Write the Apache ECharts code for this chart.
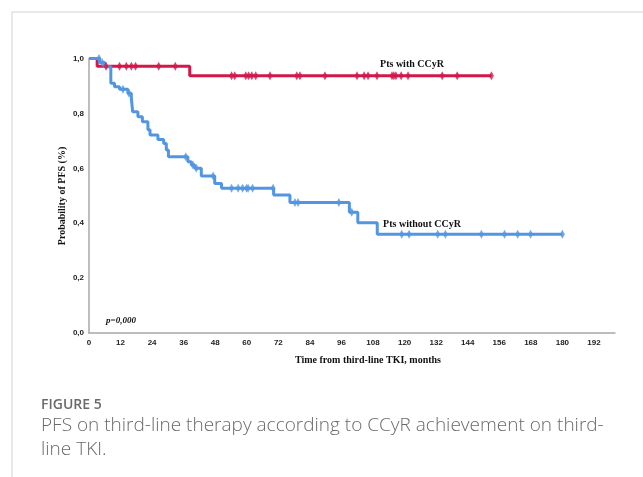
<!DOCTYPE html>
<html><head><meta charset="utf-8">
<script src="https://cdn.jsdelivr.net/npm/echarts@6/dist/echarts.min.js"></script>
<style>html,body{margin:0;padding:0;background:#fff}#c{width:643px;height:477px}</style>
</head><body><div id="c"></div>
<script>
// Kaplan–Meier steps [months, survival]
const redSteps = [[0,1.0],[3.1,0.972],[38.3,0.937],[153,0.937]];
const redCensor = [[6.5,0.972],[11.6,0.972],[14.2,0.972],[16.1,0.972],[17.7,0.972],[26.5,0.972],[32.8,0.972],
  [54.2,0.937],[55.4,0.937],[59.6,0.937],[60.7,0.937],[61.9,0.937],[63.4,0.937],[68.8,0.937],[79,0.937],[80.2,0.937],
  [89.7,0.937],[101.9,0.937],[104.6,0.937],[106.1,0.937],[109.5,0.937],[115.2,0.937],[115.9,0.937],[116.7,0.937],
  [118.7,0.937],[121.3,0.937],[134.3,0.937],[140,0.937],[153,0.937]];
const blueSteps = [[0,1.0],[4,0.985],[6,0.97],[8.3,0.91],[9.7,0.897],[11.6,0.888],[14.8,0.873],[16.1,0.855],
  [16.6,0.806],[18.6,0.788],[20.3,0.77],[22.4,0.74],[23.2,0.721],[26.2,0.705],[28.4,0.69],[29.4,0.667],[30.2,0.642],
  [37.6,0.624],[38.9,0.612],[40.2,0.6],[42.7,0.572],[47.8,0.545],[50.4,0.527],[70.2,0.503],[76.4,0.475],
  [99.0,0.44],[102.2,0.402],[109.6,0.36],[180,0.36]];
const blueCensor = [[3.8,1.0],[5,0.985],[12.9,0.888],[15.2,0.873],[36.8,0.642],[39.5,0.612],[40.8,0.6],[47.2,0.572],
  [54.2,0.527],[56.7,0.527],[58.4,0.527],[59.9,0.527],[60.5,0.527],[62.2,0.527],[70,0.527],[78.3,0.475],[79.5,0.475],
  [95,0.475],[99.9,0.44],[118.9,0.36],[121.7,0.36],[132.6,0.36],[135.5,0.36],[149.2,0.36],[158,0.36],[163,0.36],
  [167.9,0.36],[180,0.36]];
const xTicks = {min:0, max:200, interval:12};
const yTicks = {min:0, max:1, interval:0.2};

const RED = '#d3174a', BLUE = '#5296e2';
const serif = '"Liberation Serif","Times New Roman",serif';
const chart = echarts.init(document.getElementById('c'));
chart.setOption({
  animation:false,
  grid:{left:89, right:28, top:58.5, bottom:144},
  xAxis:{type:'value', min:xTicks.min, max:xTicks.max, interval:xTicks.interval,
    axisLine:{show:true, lineStyle:{color:'#a8a8a8', width:1.5}}, axisTick:{show:false}, splitLine:{show:false},
    axisLabel:{fontFamily:'"Liberation Sans",Arial,sans-serif', fontWeight:'bold', fontSize:8, color:'#222', margin:6,
      formatter:v=> v===200 ? '' : String(v)}},
  yAxis:{type:'value', min:yTicks.min, max:yTicks.max, interval:yTicks.interval,
    axisLine:{show:true, lineStyle:{color:'#a8a8a8', width:1.5}}, axisTick:{show:false}, splitLine:{show:false},
    axisLabel:{fontFamily:'"Liberation Sans",Arial,sans-serif', fontWeight:'bold', fontSize:8, color:'#222', margin:5,
      formatter:v=> v.toFixed(1).replace('.',',')}},
  series:[
    {type:'line', step:'end', data:redSteps, showSymbol:false, lineStyle:{color:RED, width:3}, z:2},
    {type:'line', step:'end', data:blueSteps, showSymbol:false, lineStyle:{color:BLUE, width:3}, z:3},
    {type:'scatter', data:redCensor, symbol:'diamond', symbolSize:[5,9], itemStyle:{color:RED}, z:4},
    {type:'scatter', data:blueCensor, symbol:'diamond', symbolSize:[5,9], itemStyle:{color:BLUE}, z:5}
  ],
  graphic:[
    {type:'line', shape:{x1:12,y1:12,x2:643,y2:12}, style:{stroke:'#d2d2d2', lineWidth:1}},
    {type:'line', shape:{x1:12,y1:12,x2:12,y2:477}, style:{stroke:'#d2d2d2', lineWidth:1}},
    {type:'text', x:412, y:64, style:{text:'Pts with CCyR', font:'bold 10px '+serif, fill:'#111', align:'center', verticalAlign:'middle'}},
    {type:'text', x:422, y:224, style:{text:'Pts without CCyR', font:'bold 10px '+serif, fill:'#111', align:'center', verticalAlign:'middle'}},
    {type:'text', x:106, y:321, style:{text:'p=0,000', font:'italic bold 9px '+serif, fill:'#111', align:'left', verticalAlign:'middle'}},
    {type:'text', x:368, y:360, style:{text:'Time from third-line TKI, months', font:'bold 10px '+serif, fill:'#111', align:'center', verticalAlign:'middle'}},
    {type:'text', x:62, y:196, rotation:Math.PI/2, style:{text:'Probability of PFS (%)', font:'bold 10px '+serif, fill:'#111', align:'center', verticalAlign:'middle'}},
    {type:'text', x:41, y:405, style:{text:'FIGURE 5', font:'600 14px "Open Sans",sans-serif', fill:'#6a6a6a', verticalAlign:'middle'}},
    {type:'text', x:41, y:426, style:{text:'PFS on third-line therapy according to CCyR achievement on third-', font:'300 19px "Open Sans",sans-serif', fill:'#6a6a6a', verticalAlign:'middle'}},
    {type:'text', x:41, y:450, style:{text:'line TKI.', font:'300 19px "Open Sans",sans-serif', fill:'#6a6a6a', verticalAlign:'middle'}}
  ]
});
</script></body></html>
